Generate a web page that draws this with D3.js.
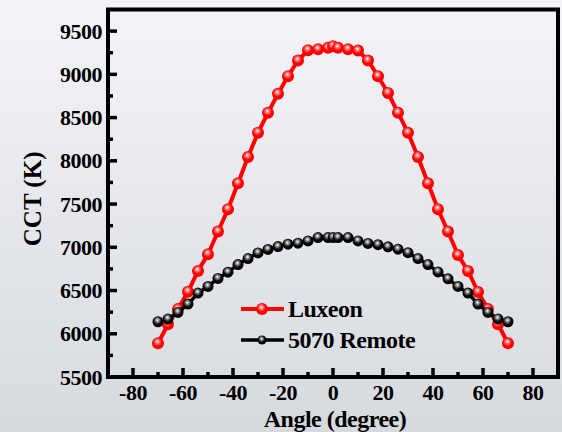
<!DOCTYPE html>
<html>
<head>
<meta charset="utf-8">
<script src="https://cdn.jsdelivr.net/npm/d3@7"></script>
</head>
<body style="margin:0">
<svg id="chart" width="562" height="432"></svg>
<script>
const width = 562;
const height = 432;

// data
const angles = [-70, -66, -62, -58, -54, -50, -46, -42, -38, -34, -30, -26, -22, -18, -14, -10, -6, -2, 0,
  2, 6, 10, 14, 18, 22, 26, 30, 34, 38, 42, 46, 50, 54, 58, 62, 66, 70];
const luxeon = [5890, 6110, 6285, 6485, 6727, 6920, 7182, 7440, 7740, 8044, 8325, 8556, 8775, 8979, 9160, 9280, 9290, 9307, 9326,
  9307, 9290, 9275, 9160, 8979, 8785, 8556, 8325, 8044, 7740, 7440, 7182, 6910, 6727, 6483, 6285, 6110, 5890];
const remote = [6139, 6170, 6247, 6343, 6470, 6547, 6640, 6712, 6800, 6870, 6935, 6975, 7008, 7036, 7047, 7074, 7113, 7113, 7113,
  7113, 7113, 7074, 7045, 7030, 7005, 6978, 6938, 6870, 6800, 6715, 6635, 6547, 6470, 6343, 6247, 6172, 6139];
const seriesNames = ["Luxeon", "5070 Remote"];
const xTicks = [-80, -60, -40, -20, 0, 20, 40, 60, 80];
const yTicks = [5500, 6000, 6500, 7000, 7500, 8000, 8500, 9000, 9500];

const svg = d3.select("#chart");

// background gradient
const defs = svg.append("defs");
const bg = defs.append("linearGradient").attr("id", "bg")
  .attr("x1", 0).attr("y1", 0).attr("x2", 0).attr("y2", 1);
bg.append("stop").attr("offset", "0%").attr("stop-color", "#f4f4f8");
bg.append("stop").attr("offset", "100%").attr("stop-color", "#d6dadf");

// sphere-like markers
function ball(id, dark, light) {
  const g = defs.append("radialGradient").attr("id", id)
    .attr("cx", "45%").attr("cy", "40%").attr("r", "60%")
    .attr("fx", "45%").attr("fy", "35%");
  g.append("stop").attr("offset", "0%").attr("stop-color", "#ffffff");
  g.append("stop").attr("offset", "25%").attr("stop-color", light);
  g.append("stop").attr("offset", "60%").attr("stop-color", dark);
  g.append("stop").attr("offset", "100%").attr("stop-color", dark);
}
ball("ballRed", "#ff0000", "#ff8080");
ball("ballBlack", "#050505", "#909090");

svg.append("rect").attr("width", width).attr("height", height).attr("fill", "url(#bg)");

const x = d3.scaleLinear().domain([-90, 90]).range([108, 558]);
const y = d3.scaleLinear().domain([5500, 9750]).range([377, 9.5]);

// frame
svg.append("rect")
  .attr("x", x(-90)).attr("y", y(9750))
  .attr("width", x(90) - x(-90)).attr("height", y(5500) - y(9750))
  .attr("fill", "none").attr("stroke", "#000").attr("stroke-width", 4);

// series
const series = [
  { name: seriesNames[0], values: luxeon, color: "#ff0000", fill: "url(#ballRed)", lw: 4, r: 6 },
  { name: seriesNames[1], values: remote, color: "#000000", fill: "url(#ballBlack)", lw: 3.5, r: 5.5 }
];

const line = d3.line().x(d => x(d[0])).y(d => y(d[1]));

series.forEach(s => {
  const pts = angles.map((a, i) => [a, s.values[i]]);
  svg.append("path")
    .datum(pts)
    .attr("d", line)
    .attr("fill", "none")
    .attr("stroke", s.color)
    .attr("stroke-width", s.lw)
    .attr("stroke-linejoin", "round");
  svg.append("g").selectAll("circle")
    .data(pts)
    .join("circle")
    .attr("cx", d => x(d[0]))
    .attr("cy", d => y(d[1]))
    .attr("r", s.r)
    .attr("fill", s.fill);
});

// ticks drawn from the scales (inward)
const tickG = svg.append("g").attr("stroke", "#000").attr("stroke-width", 3.5);
tickG.selectAll(".xmaj").data(xTicks).join("line")
  .attr("x1", d => x(d)).attr("x2", d => x(d)).attr("y1", y(5500)).attr("y2", y(5500) - 9);
tickG.selectAll(".xmin").data(d3.range(-90, 91, 20)).join("line")
  .attr("x1", d => x(d)).attr("x2", d => x(d)).attr("y1", y(5500)).attr("y2", y(5500) - 5);
tickG.selectAll(".ymaj").data(yTicks).join("line")
  .attr("y1", d => y(d)).attr("y2", d => y(d)).attr("x1", x(-90)).attr("x2", x(-90) + 9);
tickG.selectAll(".ymin").data(d3.range(5750, 9750, 500)).join("line")
  .attr("y1", d => y(d)).attr("y2", d => y(d)).attr("x1", x(-90)).attr("x2", x(-90) + 5);

// all texts appended in one go, same way for each
const labels = [];
xTicks.forEach(v => labels.push({ t: String(v), x: x(v), y: 400, a: "middle", s: 22 }));
yTicks.forEach(v => labels.push({ t: String(v), x: x(-90) - 6, y: y(v) + 7.5, a: "end", s: 22 }));
labels.push({ t: "Angle (degree)", x: (x(-90) + x(90)) / 2 + 2, y: 427, a: "middle", s: 24 });
labels.push({ t: "CCT (K)", x: 41, y: y(7560), a: "middle", s: 25, rot: true });
series.forEach((s, i) => labels.push({ t: s.name, x: 288, y: 317 + i * 31, a: "start", s: 24 }));

svg.selectAll("text.lbl").data(labels).join("text")
  .attr("class", "lbl")
  .attr("transform", d => d.rot ? `translate(${d.x},${d.y}) rotate(-90)` : `translate(${d.x},${d.y})`)
  .attr("text-anchor", d => d.a)
  .style("font-family", '"Liberation Serif", monospace')
  .style("font-weight", "bold")
  .style("font-size", d => d.s + "px")
  .style("letter-spacing", d => d.rot ? "0px" : "-0.5px")
  .text(d => d.t);

// legend keys
const legend = svg.append("g").attr("transform", "translate(241,309)");
series.forEach((s, i) => {
  const g = legend.append("g").attr("transform", `translate(0,${i * 31})`);
  g.append("line").attr("x1", 0).attr("x2", 43).attr("y1", 0).attr("y2", 0)
    .attr("stroke", s.color).attr("stroke-width", s.lw);
  g.append("circle").attr("cx", 21).attr("cy", 0).attr("r", i === 0 ? 6 : 4.5).attr("fill", s.fill);
});
</script>
</body>
</html>
